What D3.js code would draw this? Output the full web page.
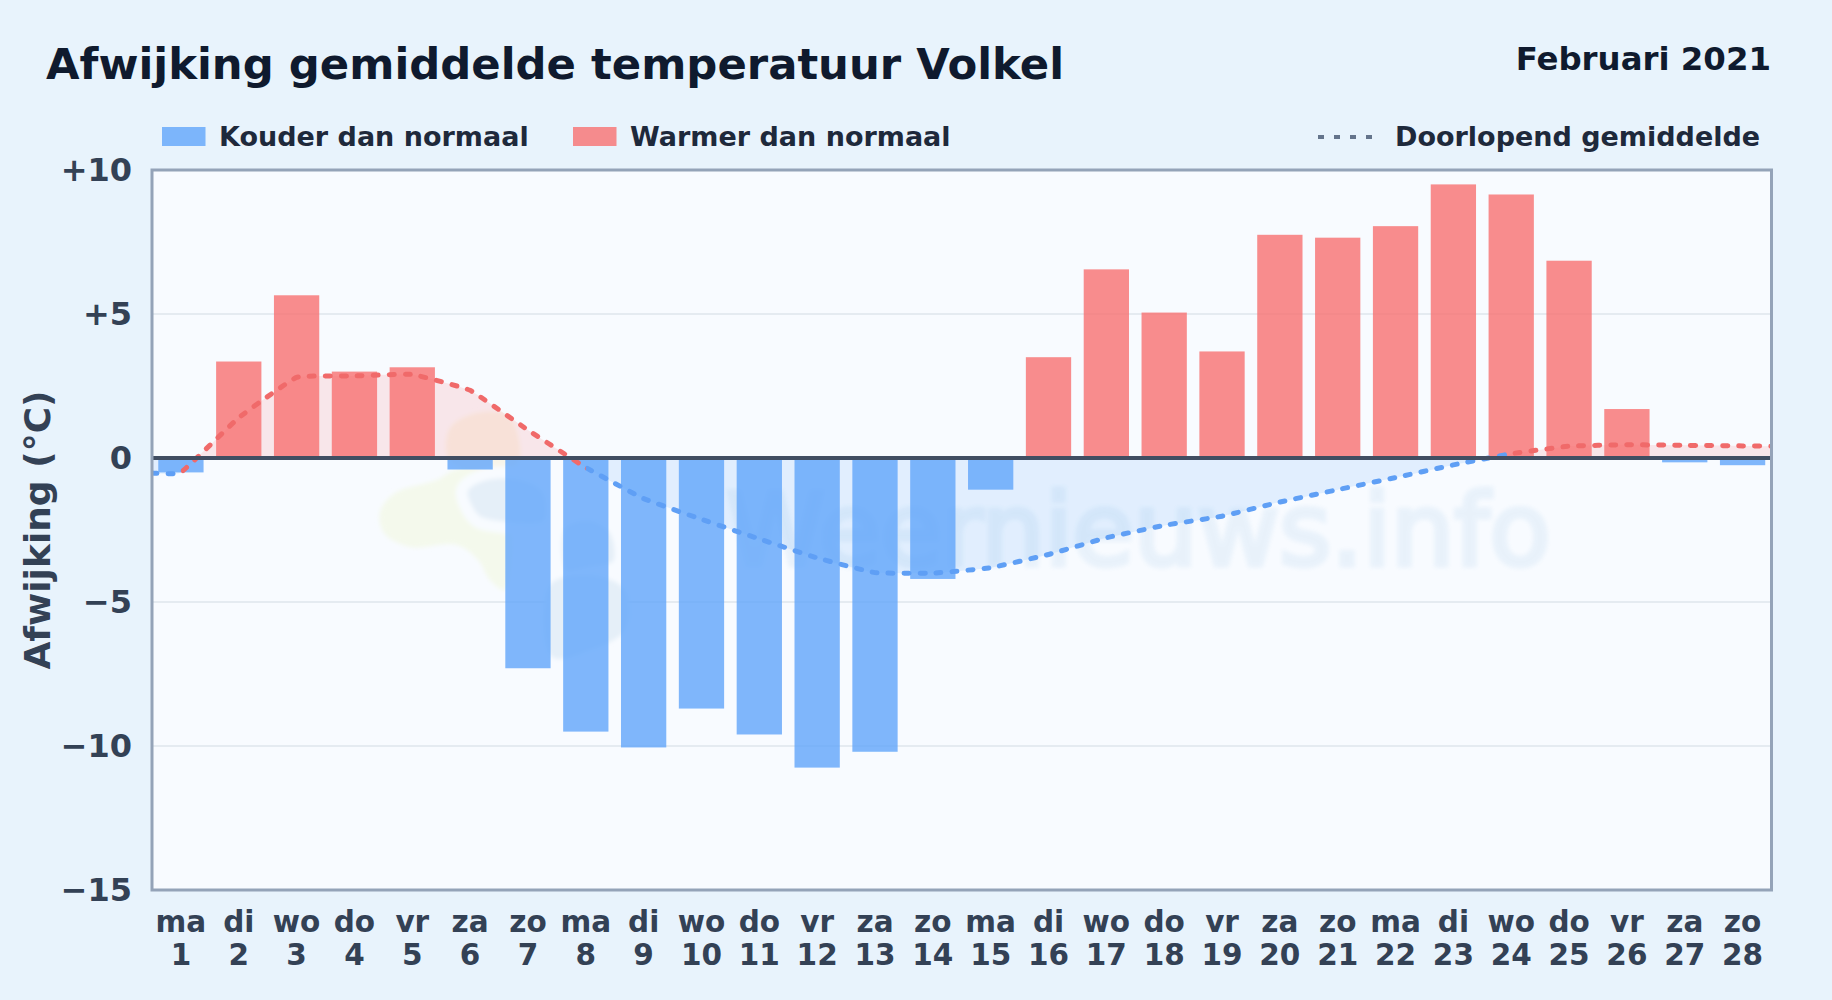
<!DOCTYPE html>
<html lang="nl">
<head>
<meta charset="utf-8">
<title>Afwijking gemiddelde temperatuur Volkel</title>
<script src="https://cdn.jsdelivr.net/npm/d3@7"></script>
<style>
  html, body { margin: 0; background: #e8f3fc; }
  svg { display: block; font-family: "DejaVu Sans", sans-serif; font-weight: bold; }
</style>
</head>
<body>
<div id="chart"></div>
<script>
// Data
const days = d3.range(1, 29);
const weekdays = ["ma","di","wo","do","vr","za","zo","ma","di","wo","do","vr","za","zo",
                  "ma","di","wo","do","vr","za","zo","ma","di","wo","do","vr","za","zo"];
const anomalies = [-0.5, 3.35, 5.65, 3.0, 3.15, -0.4, -7.3, -9.5, -10.05, -8.7, -9.6, -10.75, -10.2, -4.2,
                   -1.1, 3.5, 6.55, 5.05, 3.7, 7.75, 7.65, 8.05, 9.5, 9.15, 6.85, 1.7, -0.15, -0.25];
const runningDays = [0.5, 1, 2, 3, 4, 5, 6, 7, 8, 9, 10, 11, 12, 13, 14, 15, 16, 17, 18, 19, 20, 21, 22, 23, 24, 25, 26, 27, 28, 28.5];
const runningMean = [-0.52, -0.5, 1.4, 2.8, 2.85, 2.9, 2.35, 0.97, -0.33, -1.41, -2.13, -2.81, -3.47, -3.98, -4.0,
                     -3.81, -3.35, -2.77, -2.34, -2.02, -1.53, -1.1, -0.68, -0.24, 0.15, 0.41, 0.46, 0.44, 0.42, 0.41];
const warmSpans = [[1, 8], [24, 28.5]];
const coldSpans = [[0.5, 1], [8, 24]];
const yTicks = [10, 5, 0, -5, -10, -15];
const watermark = "Weernieuws.info";

// Dimensions
const width = 1832;
const height = 1000;
const margin = { top: 170, right: 60.5, bottom: 110, left: 152 };

const colors = { cold: "#60a5fa", warm: "#f87171" };

const svg = d3.select("#chart").append("svg")
    .attr("width", width)
    .attr("height", height);

svg.append("rect").attr("width", width).attr("height", height).attr("fill", "#e8f3fc");

// Scales
const x = d3.scaleBand()
    .domain(days)
    .range([margin.left, width - margin.right])
    .paddingInner(0.217)
    .paddingOuter(0.1085);
const xDay = d3.scaleLinear()
    .domain([0.5, 28.5])
    .range([margin.left, width - margin.right]);
const y = d3.scaleLinear()
    .domain([-15, 10])
    .range([height - margin.bottom, margin.top]);

const plotW = width - margin.left - margin.right;
const plotH = height - margin.top - margin.bottom;

// Plot background
svg.append("rect")
    .attr("x", margin.left).attr("y", margin.top)
    .attr("width", plotW).attr("height", plotH)
    .attr("fill", "#f8fbff");

// Grid
svg.append("g").selectAll("line")
    .data(yTicks.filter(d => d !== 0 && d !== 10 && d !== -15))
    .enter().append("line")
    .attr("x1", margin.left).attr("x2", width - margin.right)
    .attr("y1", d => y(d)).attr("y2", d => y(d))
    .attr("stroke", "#dfe6ec")
    .attr("stroke-width", 1.6);

// Clips
const defs = svg.append("defs");
defs.append("filter").attr("id", "soft")
    .attr("x", "-20%").attr("y", "-20%").attr("width", "140%").attr("height", "140%")
    .append("feGaussianBlur").attr("stdDeviation", 2);

defs.append("clipPath").attr("id", "plot-clip").append("rect")
    .attr("x", margin.left).attr("y", margin.top).attr("width", plotW).attr("height", plotH);
defs.append("clipPath").attr("id", "above-zero").append("rect")
    .attr("x", margin.left).attr("y", margin.top).attr("width", plotW).attr("height", y(0) - margin.top);
defs.append("clipPath").attr("id", "below-zero").append("rect")
    .attr("x", margin.left).attr("y", y(0)).attr("width", plotW).attr("height", y(-15) - y(0));

function spanClip(id, spans) {
    defs.append("clipPath").attr("id", id).selectAll("rect")
        .data(spans)
        .enter().append("rect")
        .attr("x", d => xDay(d[0]))
        .attr("width", d => xDay(d[1]) - xDay(d[0]))
        .attr("y", margin.top)
        .attr("height", plotH);
}
spanClip("warm-line", warmSpans);
spanClip("cold-line", coldSpans);

// Watermark: logo blobs and site name
const logo = svg.append("g").attr("clip-path", "url(#plot-clip)").attr("filter", "url(#soft)");
const blob = d3.line().curve(d3.curveCatmullRomClosed);
const logoBlobs = [
    { fill: "#f4f9ec", pts: [[380,512],[395,493],[437,480],[455,470],[500,470],[505,590],[490,580],[478,560],[457,545],[410,547],[384,533]] },
    { fill: "#f8f5ea", pts: [[449,430],[470,415],[505,414],[517,432],[517,465],[480,470],[450,462]] },
    { fill: "#e5eff8", ring: true, pts: [[462,490],[480,476],[520,474],[548,490],[548,525],[500,527],[475,520]] },
    { fill: "#e5eff8", ring: true, pts: [[560,525],[590,515],[615,530],[618,565],[590,573],[562,575]] },
    { fill: "#e5eff8", pts: [[550,585],[590,575],[625,590],[625,630],[590,650],[552,657]] }
];
logo.selectAll("path")
    .data(logoBlobs)
    .enter().append("path")
    .attr("d", d => blob(d.pts))
    .attr("fill", d => d.fill)
    .attr("stroke", d => d.ring ? "#f8fbff" : "none")
    .attr("stroke-width", 12);

svg.append("text")
    .attr("x", 726).attr("y", 565)
    .attr("font-size", 100)
    .attr("font-weight", "normal")
    .attr("fill", "#3c8bcd")
    .attr("stroke", "#3c8bcd")
    .attr("stroke-width", 5)
    .attr("opacity", 0.08)
    .attr("filter", "url(#soft)")
    .text(watermark);

// Running mean area, split at zero
const points = runningDays.map((d, i) => [d, runningMean[i]]);
const curve = d3.curveCardinal.tension(0.7);
const area = d3.area()
    .x(d => xDay(d[0]))
    .y0(y(0))
    .y1(d => y(d[1]))
    .curve(curve);

svg.append("path").attr("d", area(points))
    .attr("fill", colors.warm).attr("fill-opacity", 0.15)
    .attr("clip-path", "url(#above-zero)");
svg.append("path").attr("d", area(points))
    .attr("fill", colors.cold).attr("fill-opacity", 0.15)
    .attr("clip-path", "url(#below-zero)");

// Bars
svg.append("g").selectAll("rect")
    .data(days)
    .enter().append("rect")
    .attr("x", d => x(d))
    .attr("width", x.bandwidth())
    .attr("y", (d, i) => y(Math.max(anomalies[i], 0)))
    .attr("height", (d, i) => Math.abs(y(anomalies[i]) - y(0)))
    .attr("fill", (d, i) => anomalies[i] < 0 ? colors.cold : colors.warm)
    .attr("fill-opacity", 0.8);

// Running mean line
const line = d3.line()
    .x(d => xDay(d[0]))
    .y(d => y(d[1]))
    .curve(curve);

[["warm-line", "#f06a6a"], ["cold-line", "#5f9ff5"]].forEach(([clip, color]) => {
    svg.append("g").attr("clip-path", `url(#${clip})`)
        .append("path")
        .attr("d", line(points))
        .attr("fill", "none")
        .attr("stroke", color)
        .attr("stroke-width", 5)
        .attr("stroke-linecap", "round")
        .attr("stroke-dasharray", "5 11");
});

// Zero line
svg.append("line")
    .attr("x1", margin.left).attr("x2", width - margin.right)
    .attr("y1", y(0)).attr("y2", y(0))
    .attr("stroke", "#414e62")
    .attr("stroke-width", 4);

// Plot border
svg.append("rect")
    .attr("x", margin.left).attr("y", margin.top)
    .attr("width", plotW).attr("height", plotH)
    .attr("fill", "none")
    .attr("stroke", "#94a3b8")
    .attr("stroke-width", 3);

// Axes
const yAxis = svg.append("g")
    .attr("transform", `translate(${margin.left},0)`)
    .call(d3.axisLeft(y).tickValues(yTicks).tickSize(0).tickPadding(20)
        .tickFormat(d => d > 0 ? `+${d}` : d < 0 ? `\u2212${-d}` : "0"));
yAxis.select(".domain").remove();
yAxis.selectAll("text")
    .attr("font-size", 32)
    .attr("font-family", "DejaVu Sans")
    .attr("fill", "#334155");

const xAxis = svg.append("g")
    .attr("transform", `translate(0,${y(-15)})`)
    .call(d3.axisBottom(x).tickSize(0).tickFormat(""));
xAxis.select(".domain").remove();
const xLabels = xAxis.selectAll("text")
    .attr("dy", null)
    .attr("y", null)
    .attr("font-size", 29.5)
    .attr("font-family", "DejaVu Sans")
    .attr("fill", "#334155");
xLabels.append("tspan")
    .attr("x", 0).attr("y", 42)
    .text((d, i) => weekdays[i]);
xLabels.append("tspan")
    .attr("x", 0).attr("y", 75)
    .text(d => d);

svg.append("text")
    .attr("transform", `translate(50,${(y(10) + y(-15)) / 2}) rotate(-90)`)
    .attr("text-anchor", "middle")
    .attr("font-size", 36)
    .attr("fill", "#334155")
    .text("Afwijking (°C)");

// Titles
svg.append("text")
    .attr("x", 46).attr("y", 78.5)
    .attr("font-size", 43.35)
    .attr("fill", "#0f1a2e")
    .text("Afwijking gemiddelde temperatuur Volkel");
svg.append("text")
    .attr("x", 1771).attr("y", 69.5)
    .attr("text-anchor", "end")
    .attr("font-size", 32.4)
    .attr("fill", "#0f1a2e")
    .text("Februari 2021");

// Legend
const legendItems = [
    { label: "Kouder dan normaal", color: colors.cold, x: 162 },
    { label: "Warmer dan normaal", color: colors.warm, x: 573 }
];
const legend = svg.append("g");
legend.selectAll("rect")
    .data(legendItems)
    .enter().append("rect")
    .attr("x", d => d.x).attr("y", 127)
    .attr("width", 43.5).attr("height", 19)
    .attr("fill", d => d.color)
    .attr("fill-opacity", 0.8);
legend.selectAll("text.swatch-label")
    .data(legendItems)
    .enter().append("text")
    .attr("class", "swatch-label")
    .attr("x", d => d.x + 57).attr("y", 146)
    .attr("font-size", 27)
    .attr("fill", "#1e293b")
    .text(d => d.label);
legend.append("line")
    .attr("x1", 1318).attr("x2", 1374)
    .attr("y1", 137).attr("y2", 137)
    .attr("stroke", "#64748b")
    .attr("stroke-width", 4)
    .attr("stroke-dasharray", "6 10");
legend.append("text")
    .attr("x", 1395).attr("y", 146)
    .attr("font-size", 27)
    .attr("fill", "#1e293b")
    .text("Doorlopend gemiddelde");
</script>
</body>
</html>
